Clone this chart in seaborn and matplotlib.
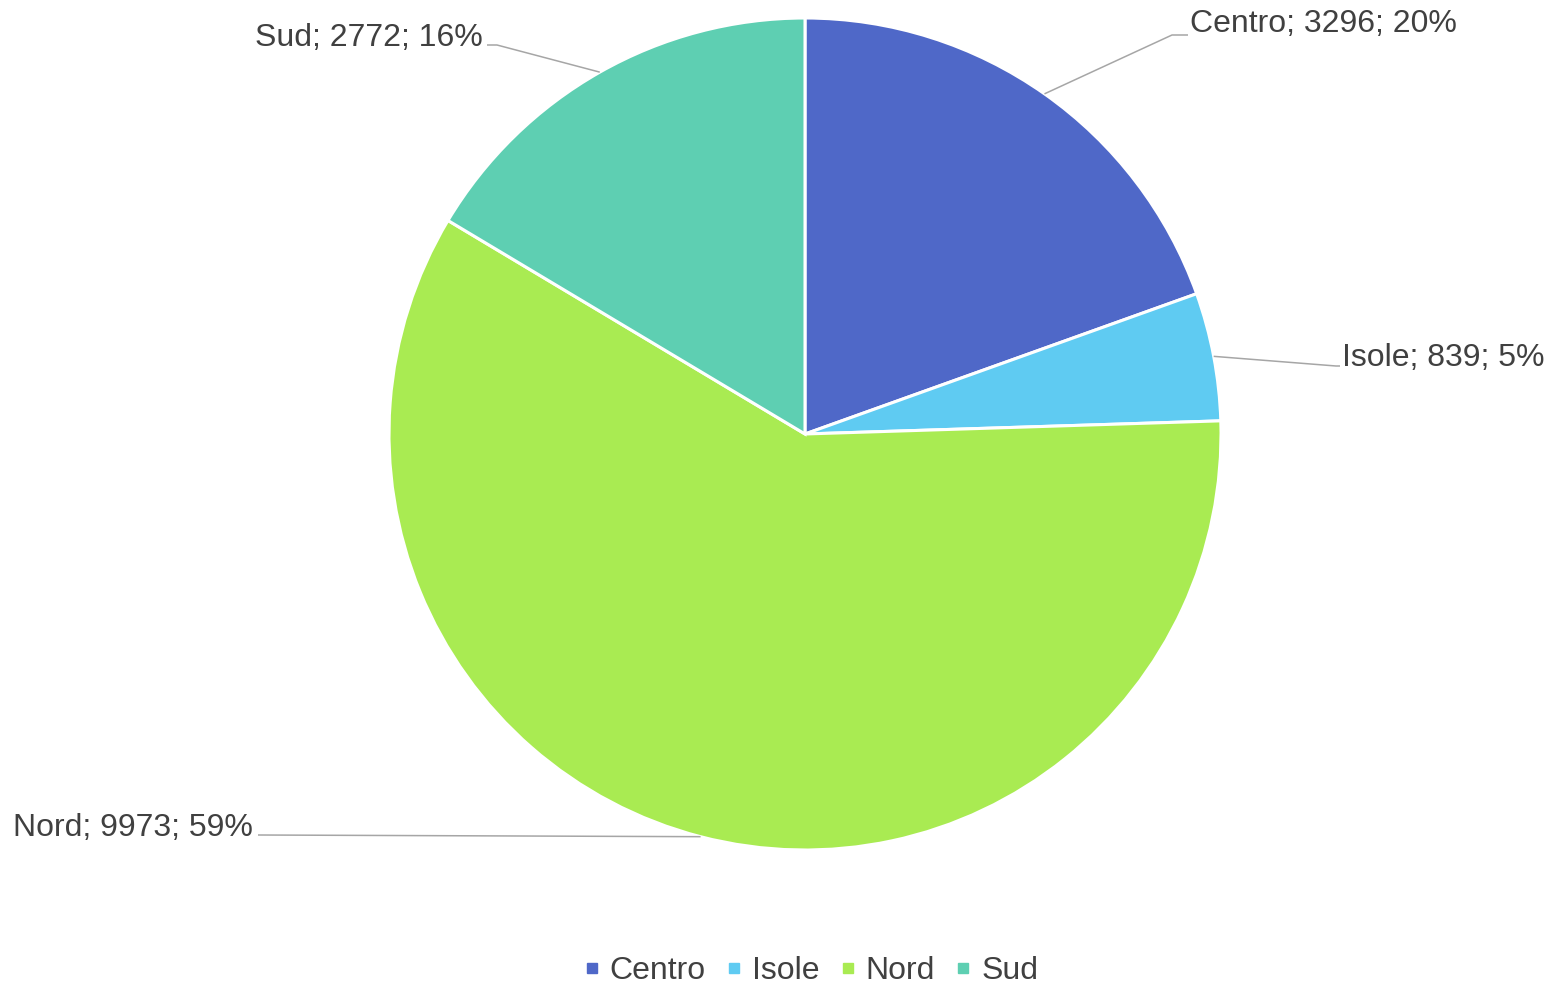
import numpy as np
import matplotlib
matplotlib.use("Agg")
from matplotlib import pyplot as plt
from matplotlib.lines import Line2D
import seaborn as sns

# data
regions = ["Centro", "Isole", "Nord", "Sud"]
counts = [3296, 839, 9973, 2772]
colors = ["#4F68C8", "#5FCBF2", "#A9EB52", "#5ECFB2"]

sns.set_theme(style="white")
plt.rcParams["font.family"] = ["Liberation Sans", "DejaVu Sans"]

TEXT_COLOR = "#404040"
LINE_COLOR = "#A6A6A6"
W, H = 1555, 986
CX, CY, R = 805, H - 434, 416

fig = plt.figure(figsize=(W / 100, H / 100), dpi=100)
ax = fig.add_axes([0, 0, 1, 1])

wedges, _ = ax.pie(counts, colors=colors, startangle=90, counterclock=False,
                   center=(CX, CY), radius=R, frame=True,
                   wedgeprops=dict(edgecolor="white", linewidth=2.2))
ax.set_xlim(0, W)
ax.set_ylim(0, H)
ax.set_aspect("equal")
ax.axis("off")

total = sum(counts)
# label layout: text anchor (pixel coords from top), alignment, leader path points
label_layout = {
    "Centro": dict(xy=(1190, 24), ha="left", path=[(1172, 35), (1188, 35)]),
    "Isole": dict(xy=(1342, 358), ha="left", path=[(1336, 366), (1340, 366)]),
    "Nord": dict(xy=(253, 828), ha="right", path=[(258, 835)]),
    "Sud": dict(xy=(483, 38), ha="right", path=[(497, 45), (487, 45)]),
}

for w, name, val in zip(wedges, regions, counts):
    mid = np.deg2rad((w.theta1 + w.theta2) / 2)
    ex, ey = CX + R * np.cos(mid), CY + R * np.sin(mid)
    lay = label_layout[name]
    xs = [ex] + [p[0] for p in lay["path"]]
    ys = [ey] + [H - p[1] for p in lay["path"]]
    ax.plot(xs, ys, color=LINE_COLOR, lw=1.1, solid_capstyle="butt")
    pct = round(val / total * 100)
    ax.text(lay["xy"][0], H - lay["xy"][1], f"{name}; {val}; {pct}%",
            ha=lay["ha"], va="center", fontsize=23, color=TEXT_COLOR)

handles = [Line2D([0], [0], marker="s", linestyle="none", markersize=7.5,
                  markerfacecolor=c, markeredgecolor=c) for c in colors]
leg = fig.legend(handles, regions, loc="center", bbox_to_anchor=(810 / W, 1 - 971 / H),
                 ncol=4, frameon=False, fontsize=23, handlelength=0.6,
                 handletextpad=0.25, columnspacing=0.6, labelcolor=TEXT_COLOR)

fig.savefig("out.png", dpi=100, facecolor="white")
